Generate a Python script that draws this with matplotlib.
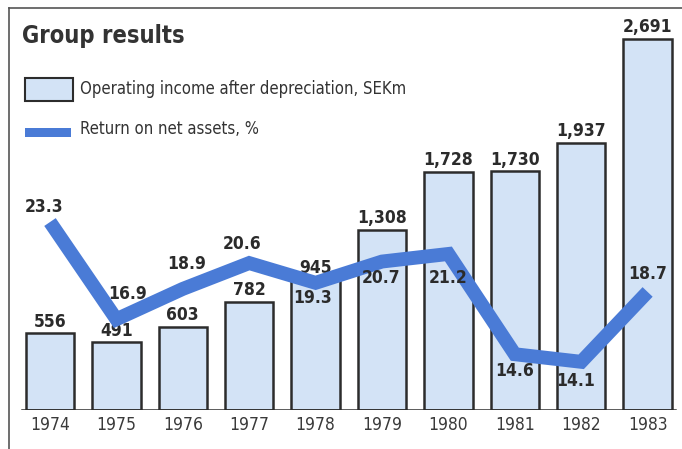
import numpy as np
import matplotlib.pyplot as plt
from matplotlib.patches import Rectangle
from matplotlib.lines import Line2D

plt.rcParams['font.family'] = ['DejaVu Sans']
plt.rcParams['font.stretch'] = 'condensed'

years = ['1974', '1975', '1976', '1977', '1978', '1979', '1980', '1981', '1982', '1983']
income = [556, 491, 603, 782, 945, 1308, 1728, 1730, 1937, 2691]
income_labels = ['556', '491', '603', '782', '945', '1,308', '1,728', '1,730', '1,937', '2,691']
rona = [23.3, 16.9, 18.9, 20.6, 19.3, 20.7, 21.2, 14.6, 14.1, 18.7]

# label offsets (points) for the return-on-assets figures
rona_dx = [-4, 8, 3, -5, -2, -1, 0, 0, -4, 0]
rona_dy = [11, 18, 18, 14, -11, -12, -17, -12, -14, 13]

bar_fill = '#d3e3f6'
edge = '#2c2c2c'
line_blue = '#4a7bd6'
text_col = '#2b2b2b'

fig = plt.figure(figsize=(6.82, 4.49), dpi=100)
ax = fig.add_axes([0.0, 0.0869, 1.0, 0.895])
x = np.arange(len(years))

ax.bar(x, income, width=0.73, color=bar_fill, edgecolor=edge, linewidth=1.8, zorder=2)
for xi, v, lab in zip(x, income, income_labels):
    ax.annotate(lab, xy=(xi, v), xytext=(0, 2), textcoords='offset points',
                ha='center', va='bottom', fontsize=12.5, fontweight='bold',
                color=text_col, zorder=3)

ax.set_xlim(-0.753, 9.518)
ax.set_ylim(0, 2915)
ax.axhline(0, xmin=0.032, xmax=0.99, color=edge, linewidth=1.8, zorder=4)
for s in ax.spines.values():
    s.set_visible(False)
ax.set_yticks([])
ax.set_xticks(x)
ax.set_xticklabels(years, fontsize=12.5, color='#3a3a3a')
ax.tick_params(axis='x', length=0, pad=4)

ax2 = ax.twinx()
ax2.set_ylim(10.93, 37.38)
ax2.plot(x, rona, color=line_blue, linewidth=10, solid_joinstyle='miter',
         solid_capstyle='butt', zorder=5)
for xi, v, dx, dy in zip(x, rona, rona_dx, rona_dy):
    ax2.annotate(f'{v:.1f}', xy=(xi, v), xytext=(dx, dy), textcoords='offset points',
                 ha='center', va='center', fontsize=12.5, fontweight='bold',
                 color=text_col, zorder=6)
for s in ax2.spines.values():
    s.set_visible(False)
ax2.set_yticks([])

# outer frame: left and top rules
fig.add_artist(Line2D([9 / 682, 9 / 682], [0, 441 / 449], color='#555555', linewidth=1.2))
fig.add_artist(Line2D([9 / 682, 1.0], [441 / 449, 441 / 449], color='#555555', linewidth=1.2))

fig.text(22 / 682, 1 - 36 / 449, 'Group results', fontsize=17, fontweight='bold',
         color='#333333', va='center', ha='left')

# legend
fig.add_artist(Rectangle((25 / 682, 1 - 101 / 449), 48 / 682, 23 / 449,
                         facecolor=bar_fill, edgecolor=edge, linewidth=1.5,
                         transform=fig.transFigure))
fig.text(80 / 682, 1 - 89 / 449, 'Operating income after depreciation, SEKm',
         fontsize=12, color='#333333', va='center', ha='left')
fig.add_artist(Rectangle((25 / 682, 1 - 137 / 449), 46 / 682, 9 / 449,
                         facecolor=line_blue, edgecolor='none',
                         transform=fig.transFigure))
fig.text(80 / 682, 1 - 129 / 449, 'Return on net assets, %',
         fontsize=12, color='#333333', va='center', ha='left')

fig.savefig('out.png', dpi=100, facecolor='white')
